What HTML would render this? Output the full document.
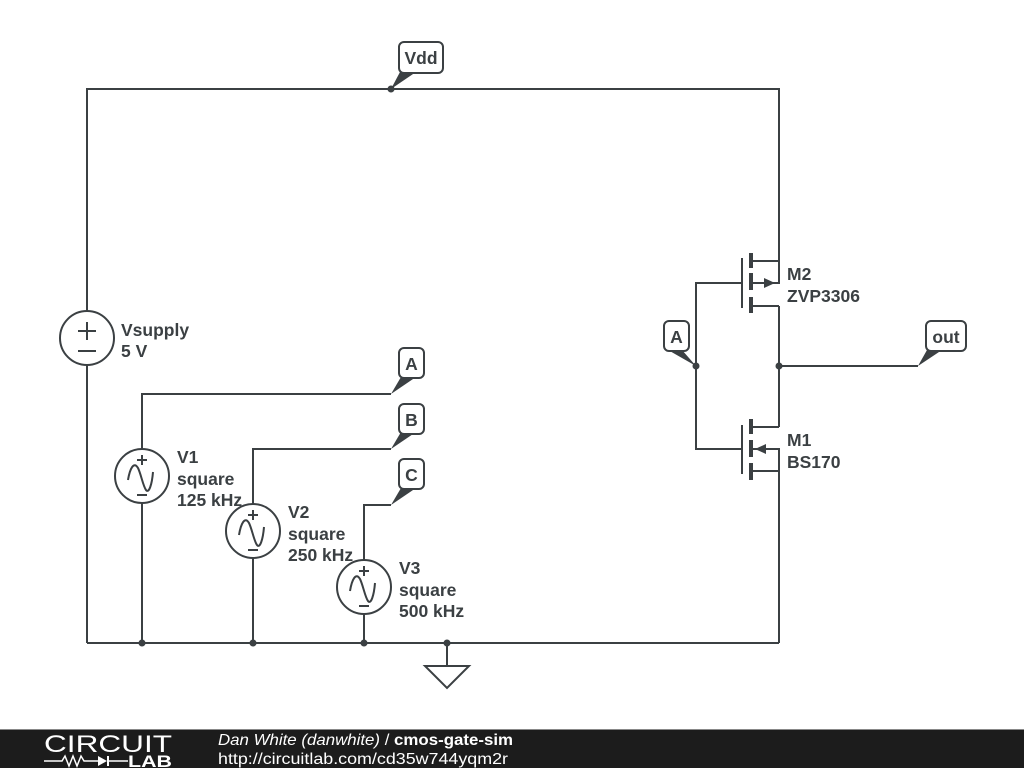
<!DOCTYPE html>
<html><head><meta charset="utf-8"><style>
html,body{margin:0;padding:0;background:#fff;width:1024px;height:768px;overflow:hidden}
svg{display:block}
text{font-family:"Liberation Sans",sans-serif}
</style></head><body>
<svg width="1024" height="768" viewBox="0 0 1024 768" xmlns="http://www.w3.org/2000/svg">
<defs>
<g id="sine" stroke="#3b4043" stroke-width="2" fill="none">
<path d="M-14,4 C-12,-8 -8,-15 -4,-8 C-1,-2 1,10 4,14 C7,18 10,8 11,-4"/>
<line x1="-5" y1="-16" x2="5" y2="-16"/><line x1="0" y1="-21" x2="0" y2="-11"/>
<line x1="-5" y1="19" x2="5" y2="19"/>
</g>
</defs>
<g stroke="#3b4043" stroke-width="2" fill="none">
<polyline points="87,311 87,89 779,89 779,261"/>
<line x1="87" y1="365" x2="87" y2="643"/>
<line x1="87" y1="643" x2="779" y2="643"/>
<polyline points="779,306 779,427"/>
<line x1="779" y1="471" x2="779" y2="643"/>
<line x1="447" y1="643" x2="447" y2="666"/>
<polygon points="425,666 469,666 447,688"/>
<circle cx="87" cy="338" r="27"/>
<line x1="78" y1="331" x2="96" y2="331"/><line x1="87" y1="322" x2="87" y2="340"/>
<line x1="78" y1="351" x2="96" y2="351"/>
<polyline points="142,449 142,394 391,394"/>
<line x1="142" y1="503" x2="142" y2="643"/>
<circle cx="142" cy="476" r="27"/>
<polyline points="253,504 253,449 391,449"/>
<line x1="253" y1="558" x2="253" y2="643"/>
<circle cx="253" cy="531" r="27"/>
<polyline points="364,560 364,505 391,505"/>
<line x1="364" y1="614" x2="364" y2="643"/>
<circle cx="364" cy="587" r="27"/>
<polyline points="742,283 696,283 696,449 742,449"/>
<line x1="742" y1="258" x2="742" y2="308"/>
<line x1="742" y1="425" x2="742" y2="474"/>
<polyline points="751,261 779,261 779,283 751,283"/>
<line x1="751" y1="306" x2="779" y2="306"/>
<line x1="751" y1="427" x2="779" y2="427"/>
<polyline points="751,449 779,449 779,471 751,471"/>
<line x1="779" y1="366" x2="918" y2="366"/>
</g>
<use href="#sine" x="142" y="476"/>
<use href="#sine" x="253" y="531"/>
<use href="#sine" x="364" y="587"/>
<g fill="#3b4043">
<rect x="749" y="253" width="4" height="15"/><rect x="749" y="273" width="4" height="17"/><rect x="749" y="297" width="4" height="16"/>
<rect x="749" y="419" width="4" height="15"/><rect x="749" y="440" width="4" height="17"/><rect x="749" y="463" width="4" height="17"/>
<polygon points="775,283 764,278 764,288"/>
<polygon points="755,449 766,444 766,454"/>
<circle cx="391" cy="89" r="3.5"/><circle cx="142" cy="643" r="3.5"/><circle cx="253" cy="643" r="3.5"/>
<circle cx="364" cy="643" r="3.5"/><circle cx="447" cy="643" r="3.5"/><circle cx="696" cy="366" r="3.5"/><circle cx="779" cy="366" r="3.5"/>
<polygon points="400,72 416,72 391,89"/>
<polygon points="401,377 416,377 391,394"/>
<polygon points="401,432 416,432 391,449"/>
<polygon points="401,488 416,488 391,505"/>
<polygon points="668,350 682,350 696,366"/>
<polygon points="927,350 942,350 918,366"/>
</g>
<g stroke="#3b4043" stroke-width="2" fill="#fff">
<rect x="399" y="42" width="44" height="31" rx="5"/>
<rect x="399" y="348" width="25" height="30" rx="5"/>
<rect x="399" y="404" width="25" height="30" rx="5"/>
<rect x="399" y="459" width="25" height="30" rx="5"/>
<rect x="664" y="321" width="25" height="30" rx="5"/>
<rect x="926" y="321" width="40" height="30" rx="5"/>
</g>
<g fill="#3b4043" font-weight="bold" font-size="17.5">
<text x="421" y="64" text-anchor="middle">Vdd</text>
<text x="411.5" y="370" text-anchor="middle">A</text>
<text x="411.5" y="426" text-anchor="middle">B</text>
<text x="411.5" y="481" text-anchor="middle">C</text>
<text x="676.5" y="343" text-anchor="middle">A</text>
<text x="946" y="343" text-anchor="middle">out</text>
<text x="121" y="336">Vsupply</text><text x="121" y="357">5 V</text>
<text x="177" y="463">V1</text><text x="177" y="485">square</text><text x="177" y="506">125 kHz</text>
<text x="288" y="518">V2</text><text x="288" y="540">square</text><text x="288" y="561">250 kHz</text>
<text x="399" y="574">V3</text><text x="399" y="596">square</text><text x="399" y="617">500 kHz</text>
<text x="787" y="280">M2</text><text x="787" y="302">ZVP3306</text>
<text x="787" y="446">M1</text><text x="787" y="468">BS170</text>
</g>
<rect x="0" y="729" width="1024" height="39" fill="#1c1c1c"/>
<line x1="0" y1="729.5" x2="1024" y2="729.5" stroke="#888"/>
<text x="44" y="752" fill="#fff" font-size="24" textLength="128" lengthAdjust="spacingAndGlyphs">CIRCUIT</text>
<polyline points="44,761 62,761 65,756 69,766 73,756 77,766 81,756 84,761 98,761" stroke="#fff" stroke-width="1.5" fill="none"/>
<polygon points="98,756 98,766 107,761" fill="#fff"/><line x1="108" y1="756" x2="108" y2="766" stroke="#fff" stroke-width="2"/>
<line x1="108" y1="761" x2="128" y2="761" stroke="#fff" stroke-width="1.5"/>
<text x="128" y="767" fill="#fff" font-size="17" font-weight="bold" textLength="44" lengthAdjust="spacingAndGlyphs">LAB</text>
<text x="218" y="745" fill="#fff" font-size="16" font-family="DejaVu Sans" textLength="295" lengthAdjust="spacingAndGlyphs"><tspan font-style="italic">Dan White (danwhite)</tspan> / <tspan font-weight="bold">cmos-gate-sim</tspan></text>
<text x="218" y="764" fill="#fff" font-size="16" font-family="DejaVu Sans" textLength="290" lengthAdjust="spacingAndGlyphs">http://circuitlab.com/cd35w744yqm2r</text>
</svg>
</body></html>
